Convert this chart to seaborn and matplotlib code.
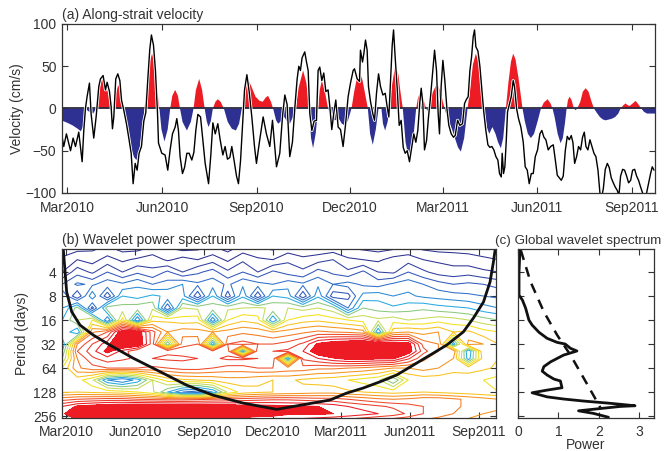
import numpy as np
import pandas as pd
import matplotlib
matplotlib.use('Agg')
import matplotlib.pyplot as plt
import matplotlib.dates as mdates
import matplotlib.patheffects as pe
import seaborn as sns

sns.set_theme(style='ticks')
plt.rcParams['font.family'] = ['Liberation Sans', 'DejaVu Sans']
plt.rcParams.update({'font.size': 10, 'axes.edgecolor': '#333333', 'text.color': '#333333',
                     'axes.labelcolor': '#333333', 'xtick.color': '#333333', 'ytick.color': '#333333'})

# day offsets are counted from 1 Mar 2010
start = pd.Timestamp('2010-03-01')

# (a) daily along-strait velocity (cm/s)
vel_day = [-5, -3.6, -1, 3, 5.5, 7.8, 11, 14.3, 15.9, 17.5, 19.1, 21.4, 23, 25.6, 27.9, 30.5, 32.1, 34.7, 37, 38.6,
           40.9, 42.5, 43.8, 45.1, 47, 49, 51, 52.6, 54.8, 57.4, 59.7, 62, 63.9, 65.9, 67.8, 69.7, 72, 74.3, 76.2,
           78.2, 80.1, 81.7, 83.7, 85.6, 87.6,
           88.6, 91.8, 95, 97.6, 99.9, 102.2, 104.8, 106.4, 108, 109.6, 111.9, 113.9, 116.2, 118.4, 121, 123, 124.9,
           126.9, 129.5, 131.7, 134, 137.3, 139.5, 141.5, 143.8, 146.3, 148.6, 151.2, 153.4, 155.7, 158, 159.9,
           162.2, 164.5, 166.4, 168.4, 170.3, 172.3, 174.6, 176.8, 179.4, 182,
           183.9, 187.1, 190.4, 193.6, 196.9, 199.5, 201.7, 203.4, 206.6, 209.2, 211.5, 213.7, 216.3, 218.9, 221.5,
           223.5, 225.1, 226.7, 228.3, 230.9, 232.6, 234.2, 235.8, 237.8, 240, 242.3, 243.9, 245.5, 247.5, 249.4,
           251.4, 253.6, 255.3, 257.2, 259.2, 261.1, 263.4, 265.7, 268.2, 270.5, 273.1, 275.4, 278,
           279.3, 281.9, 284.2, 285.1, 287.1, 288.4, 290, 291.6, 292.9, 294.9, 297.1, 298.8, 300.7, 302.7, 304.6,
           306.9, 309.2, 311.1, 312.7, 314.3, 316, 317.3, 318.9, 320.8, 322.8, 324.7, 326.7, 328.6, 330.6, 332.8,
           335.1, 337, 339, 340.9, 342.9, 344.2, 345.8, 347.4, 349.4, 351.3, 353.3, 355.2, 357.2, 359.1, 360.7,
           362, 363.6, 365.3, 367.2, 369.2, 371.1, 373.4,
           375.6, 377.3, 379.6, 381.8, 384.4, 386.4, 388.3, 389.9, 391.6, 393.2, 394.8, 396.1, 397.4, 399.4, 401.3,
           403.2, 404.9, 407.1, 409.1, 411, 413, 414.9, 416.9, 418.8, 420.4, 422.1, 423, 424.3, 425.6, 426.9, 428.2,
           429.8, 431.8, 433.7, 435, 437, 438.9, 441.2, 443.5, 445.4, 447.4, 449.3, 451.3, 453.2, 455.2, 457.4,
           459.7, 461.6, 463.6, 465.5, 467.8,
           470.1, 472.7, 474.6, 476.6, 478.5, 480.5, 482.4, 484.4, 486.3, 488.3, 490.2, 491.8, 493.5, 495.4, 497.3,
           499.3, 501.2, 502.9, 504.5, 506.4, 508.4, 510.3, 512.3, 514.2, 516.2, 518.1, 519.7, 521.4, 523.3, 525.3,
           527.2, 529.1, 531.1, 533, 535, 536.6, 538.2, 540.2, 542.1, 544.1, 546, 548, 549.9, 551.9, 553.8, 555.7,
           557.7, 559.6, 561.6, 563.5, 565.5, 567.4, 569, 570.7]
vel_cms = [-35, -45, -30, -50, -35, -45, -28, -63, -26, 0, 14, 30, -6, -35, -10, 26, 35, 39, 22, 31,
           20, 2, -24, -10, 35, 41, 33, 10, -2, -18, -35, -53, -89, -65, -73, -53, -45, -15, -5,
           35, 70, 87, 75, 45, -5,
           -41, -53, -55, -73, -49, -30, -22, -12, -26, -57, -77, -70, -53, -53, -61, -52, -26,
           -7, -10, -37, -65, -89, -55, -17, -30, -18, -37, -55, -45, -60, -58, -45,
           -62, -80, -89, -62, -20, 22, 40, 20, -10, -45,
           -65, -37, -10, -30, -45, -14, -45, -69, -53, -10, 16, 5, -57, -40, 5,
           35, 50, 45, 60, 67, 55, 45, -6, -26, -15, -14, 45, 49, 33, 42,
           20, 22, 2, -25, -5, 10, -22, -25, -45, -20, 14, 30, 45,
           47, 35, 32, 69, 55, 65, 81, 69, 26, 8, -6, -14, 18, 41, 26,
           16, 18, 2, -10, 30, 75, 93, 60, 25, -20, -14, -46, -53, -50, -63,
           -45, -30, -40, -26, 8, 24, 6, -49, -38, -10, 14, 41, 69, 45, -6,
           -30, 26, 57, 33, 0, -20, -30,
           -34, -32, -14, -20, -18, 6, 11, 14, 45, 61, 85, 93, 73, 68, 50,
           22, -2, -26, -43, -46, -45, -49, -57, -61, -77, -81, -53, -77, -69, -40, -4,
           4, 14, 33, 26, 0, -12, -22, -40, -69, -73, -89, -77, -77, -57, -49,
           -30, -26, -34, -37, -49,
           -45, -43, -60, -79, -82, -85, -80, -50, -33, -37, -32, -40, -65, -57, -45,
           -49, -34, -28, -45, -49, -37, -45, -53, -57, -73, -100, -105, -95, -72, -65,
           -70, -82, -88, -93, -97, -103, -80, -72, -73, -80, -88, -85, -73, -72, -80, -85,
           -93, -100, -104, -100, -88, -77, -69, -73]

# (a) band-passed velocity drawn as red / blue shading
filt_day = [-6, 0, 5, 10, 13, 15, 17.5, 20, 25, 28, 30, 33, 34.7, 37, 40, 41.9, 43, 44.5, 46, 49, 50.5, 52.5,
            54.8, 58, 62, 65, 67.2, 70, 73, 75, 77, 80, 82.4, 85, 87.5, 89.5, 91.5, 94.4, 97.5, 100, 102, 104.8,
            107.5, 109.5, 112, 116.2, 120, 122.7, 125, 128.2, 131, 133.5, 135.5, 137.3, 139.5, 141.5, 144, 146.3,
            149, 152.2, 156, 160, 163.9, 167, 169.7, 172, 175.5, 179, 183, 187, 190, 193, 195.2, 198, 200.1, 203,
            205, 208, 211, 214, 216.3, 219.5, 222.2, 225, 229.3, 232.5, 235.2, 237, 239, 241.5, 243.9, 245.5,
            247.5, 250.5, 253.6, 257, 260, 264, 267, 269.9, 273, 276.4, 279, 282, 284.2, 287, 290, 292.3, 294.5,
            297.1, 300, 302.7, 304, 305.5, 307, 309.1, 311.5, 313.4, 315.5, 318.9, 322, 324, 326.3, 329, 332.8,
            336, 339.3, 341, 343.5, 346, 349.1, 350.5, 352, 355, 359.7, 363, 366.9, 370, 374, 377, 380, 382.8,
            386, 389.3, 392, 394.5, 397.4, 400, 403, 405.5, 408, 410.4, 413.5, 416.5, 419, 421.7, 424, 426.6, 429,
            431.5, 433.7, 436, 439, 442.8, 445, 448, 450.9, 454, 457.5, 460.7, 463.5, 467.2, 470, 472, 474, 477,
            479.8, 482, 484, 485.7, 487, 488.6, 490.5, 492.8, 494.5, 496, 499, 501.5, 504.2, 507, 510, 512.3, 515,
            518, 521, 523.6, 527, 530, 533, 536, 538.2, 541, 543.1, 545, 547, 550, 552.8, 555.5, 558.3, 561, 564,
            568, 572]
filt_cms = [-14, -17, -20, -24, -27, -22, 0, -3, -6, 0, 15, 33, 37, 32, 15, 0, -3, 0, 12, 26, 28, 20,
            0, -25, -48, -58, -61, -50, -22, 0, 25, 55, 65, 52, 20, 0, -25, -39, -25, 0, 15, 22,
            15, 0, -16, -26, -16, 0, 22, 35, 22, 0, -15, -22, -15, 0, 8, 11,
            8, 0, -16, -24, -26, -18, 0, 20, 35, 26, 14, 9, 8, 13, 15, 8, 0, -14,
            -18, -15, -10, -16, -18, -10, 0, 25, 45, 30, 0, -35, -47, -30, 0, 22,
            33, 20, 0, -10, -14, -12, -18, -20, -14, 0, 20, 38, 43, 34, 15, 0, -30,
            -43, -25, 0, 2, 0, -18, -26, -16, 0, 25, 51, 40, 20, 0, -40, -63,
            -42, 0, 12, 20, 12, 0, -3, 0, 18, 30, 20, 0, -12, -24, -35, -46, -51,
            -35, 0, 25, 52, 65, 55, 30, 0, -22, -30, -22, -30, -40, -47, -35, 0, 30,
            55, 65, 58, 35, 0, -15, -30, -35, -30, -15, 0, 7, 11, 6, 0, -10, -30,
            -41, -35, -18, 0, 10, 14, 10, 0, -2, 0, 8, 20, 24, 20, 8, 0, -5,
            -10, -13, -14, -13, -12, -10, -6, 0, 4, 6, 4, 3, 6, 9, 5, 0, -4, -6,
            -6, -6]

# (b) wavelet power, coarse contour-band values (rows = periods, cols = days)
wav_day = [-5, 15, 35, 55, 75, 95, 115, 135, 155, 175, 195, 215, 235, 255, 275, 295, 315, 335, 355, 375,
           395, 415, 435, 455, 475, 495, 515, 535, 555, 575]
wav_period = [2, 2.8, 4, 5.7, 8, 11.3, 16, 22.6, 32, 39.4, 48.5, 64, 90.5, 128, 157.6, 194, 238.9, 274.4]
wav_power = [
    [0.2, 0.3, 0.4, 0.6, 0.3, 0.3, 0.6, 0.5, 0.3, 0.4, 0.6, 0.3, 0.7, 0.5, 0.4, 0.7, 0.4, 0.6, 0.7, 0.5,
     0.4, 0.3, 0.4, 0.6, 0.4, 0.3, 0.3, 0.3, 0.2, 0.2],
    [0.6, 1.0, 0.8, 1.2, 0.9, 1.1, 1.3, 0.9, 1.2, 1.0, 1.3, 0.9, 1.4, 1.1, 1.0, 1.4, 1.2, 1.3, 1.5, 1.1,
     1.0, 0.9, 1.2, 1.3, 1.0, 0.9, 0.8, 0.7, 0.6, 0.5],
    [1.0, 1.8, 1.4, 2.0, 1.5, 1.9, 1.6, 2.1, 1.5, 1.9, 2.2, 1.6, 2.0, 1.5, 2.1, 1.8, 1.6, 2.2, 1.9, 1.6,
     2.1, 1.5, 1.4, 2.0, 1.6, 1.3, 1.2, 1.3, 1.1, 1.0],
    [2.0, 2.6, 2.4, 2.8, 2.6, 2.9, 2.5, 2.7, 3.0, 2.6, 2.8, 2.4, 2.9, 2.7, 2.5, 2.8, 2.6, 2.9, 2.5, 2.7,
     2.4, 2.3, 2.6, 2.8, 2.5, 2.2, 2.0, 2.1, 2.0, 1.8],
    [3.0, 1.5, 3.4, 1.6, 3.5, 3.3, 3.6, 3.4, 3.2, 1.6, 3.5, 1.7, 3.4, 1.6, 3.5, 3.3, 1.6, 3.4, 1.7, 1.8,
     3.2, 3.3, 3.0, 3.1, 2.9, 2.8, 2.7, 2.6, 2.5, 2.4],
    [3.0, 4.2, 1.8, 4.3, 4.2, 4.3, 4.4, 2.0, 4.5, 4.4, 4.3, 4.4, 4.5, 4.6, 4.4, 4.5, 4.3, 4.5, 4.2, 2.5,
     4.0, 3.8, 3.6, 3.8, 3.9, 3.7, 3.6, 3.5, 3.2, 3.0],
    [3.5, 4.5, 5.0, 2.5, 5.2, 2.5, 5.3, 5.4, 5.2, 5.3, 2.6, 5.0, 5.4, 5.2, 3.0, 5.0, 5.3, 5.4, 5.2, 5.0,
     4.8, 4.6, 4.8, 4.5, 4.6, 4.8, 4.7, 4.5, 4.2, 4.0],
    [4.0, 3.0, 6.4, 7.0, 9.0, 9.0, 7.2, 6.0, 6.3, 6.2, 6.0, 6.2, 6.4, 6.3, 6.0, 6.2, 6.4, 6.6, 6.5, 6.4,
     6.2, 3.0, 5.8, 6.0, 5.8, 6.0, 5.5, 5.6, 5.2, 5.0],
    [3.0, 6.5, 7.5, 8.3, 9.4, 9.2, 7.2, 3.5, 6.8, 7.0, 3.0, 7.0, 7.2, 7.0, 7.0, 7.2, 7.6, 8.6, 9.0, 9.2,
     9.4, 9.3, 9.0, 8.8, 6.8, 6.5, 3.2, 6.2, 6.0, 5.5],
    [3.5, 7.0, 7.8, 8.7, 7.8, 7.0, 7.2, 7.4, 7.3, 7.2, 7.2, 7.3, 3.0, 7.4, 7.5, 7.6, 8.0, 9.0, 9.5, 9.6,
     9.6, 9.4, 9.2, 8.9, 7.2, 6.5, 6.4, 3.0, 6.0, 5.6],
    [4.0, 6.5, 7.4, 7.8, 7.6, 7.4, 7.5, 7.6, 7.6, 7.5, 7.4, 7.6, 7.6, 7.5, 7.4, 3.0, 7.6, 8.0, 8.4, 8.7,
     8.7, 8.6, 8.6, 7.6, 6.6, 6.2, 6.0, 3.2, 5.8, 5.5],
    [5.0, 6.4, 6.8, 7.0, 7.0, 7.0, 6.9, 7.0, 7.2, 7.2, 7.0, 6.8, 6.8, 7.0, 7.0, 6.8, 6.8, 6.6, 6.6, 6.5,
     6.4, 6.2, 6.0, 6.0, 6.2, 6.0, 5.8, 5.8, 5.6, 5.4],
    [5.0, 5.2, 4.6, 3.0, 2.5, 3.2, 4.5, 5.2, 5.4, 5.5, 5.6, 5.8, 5.8, 5.6, 5.5, 5.6, 5.4, 5.3, 5.2, 5.0,
     4.8, 4.6, 3.5, 5.0, 5.2, 5.2, 5.0, 5.1, 5.0, 4.8],
    [5.4, 5.5, 5.4, 5.3, 5.2, 5.0, 4.6, 3.5, 2.5, 2.2, 3.0, 4.6, 5.2, 5.4, 5.5, 5.6, 5.7, 5.8, 5.8, 5.6,
     5.5, 5.4, 5.3, 5.4, 5.5, 5.4, 5.3, 5.2, 5.1, 5.0],
    [6.8, 7.0, 7.1, 7.2, 7.2, 7.0, 6.9, 6.8, 6.8, 6.9, 7.0, 7.1, 7.2, 7.3, 7.4, 7.4, 7.3, 7.2, 7.2, 7.0,
     6.8, 6.6, 6.5, 6.6, 6.8, 6.8, 6.6, 6.4, 6.2, 6.0],
    [8.0, 8.6, 8.8, 9.0, 9.1, 9.2, 9.2, 9.2, 9.1, 9.0, 9.0, 8.9, 8.8, 8.8, 8.7, 8.6, 8.6, 8.5, 8.3, 8.0,
     7.8, 7.6, 7.4, 7.2, 7.0, 6.8, 6.6, 6.4, 6.4, 6.2],
    [8.4, 9.0, 9.2, 9.4, 9.5, 9.5, 9.5, 9.4, 9.3, 9.2, 9.1, 9.0, 8.9, 8.8, 8.8, 8.6, 8.6, 8.6, 8.5, 8.4,
     8.2, 8.0, 7.8, 7.4, 7.0, 6.8, 6.5, 6.2, 6.0, 5.8],
    [8.0, 8.6, 8.9, 9.0, 9.0, 9.0, 9.0, 8.9, 8.8, 8.7, 8.6, 8.5, 8.4, 8.3, 8.2, 8.0, 8.0, 7.9, 7.8, 7.6,
     7.4, 7.2, 7.0, 6.8, 6.6, 6.4, 6.2, 6.0, 5.8, 5.6],
]
level_values = [0.5, 1.0, 1.5, 2.0, 2.5, 3.0, 3.5, 4.0, 4.5, 5.0, 5.5, 6.0, 6.5, 7.0, 7.5, 8.0, 8.5]
level_colors = ['#2e3192', '#2e3192', '#30409f', '#3056b8', '#2f6fc8', '#2a8bd6', '#27aae1', '#8cc980',
                '#c4dc5a', '#f5e11b', '#f9c31c', '#f7941d', '#f47a22', '#ee4a2a', '#ec3a27', '#ed1c24', '#ed1c24']

# (b) cone of influence
coi_day = [-3.6, 0.9, 7.6, 18.6, 36.3, 58.5, 89.1, 125, 160.5, 195.5, 235.4, 280.2,
           351, 373, 395, 417.6, 439.8, 461.8, 484, 506, 528.3, 541.6, 555, 563.8, 568.2, 570.5]
coi_period = [2.06, 7.1, 12.6, 18.5, 24.7, 33, 48, 71, 105, 140, 176, 211,
              161, 132, 114, 95, 78, 58.7, 44, 33, 22.5, 15.1, 9.5, 5.3, 3.0, 2.1]

# (c) global wavelet spectrum and significance level
gws_period = [2.01, 4.0, 7.8, 9.0, 11.4, 16.0, 18.5, 22.8, 27.1, 30.5, 32, 36.2, 39.1, 44, 53.4, 61.4,
              70, 78.2, 88, 92.9, 113, 121, 130.6, 147, 156.5, 166, 177, 190, 194, 205, 220, 237, 265]
gws_power = [0.05, 0.025, 0.025, 0.11, 0.19, 0.27, 0.35, 0.52, 0.72, 0.97, 1.17, 1.30, 1.46, 1.13, 0.81, 0.64,
             0.60, 0.72, 0.89, 1.05, 1.09, 0.72, 0.35, 0.72, 1.13, 1.63, 2.28, 2.90, 2.53, 2.08, 1.50, 1.87, 2.24]
sig_period = [2.14, 5.3, 12.6, 24.7, 44, 86, 153, 201]
sig_power = [0.07, 0.31, 0.64, 0.97, 1.30, 1.63, 1.91, 2.04]


def day_num(days):
    return mdates.date2num(start + pd.to_timedelta(np.asarray(days, dtype=float), unit='D'))


def style_axis(ax, xpad=6):
    ax.tick_params(direction='in', top=True, right=True, length=4, width=0.8, labelsize=10)
    ax.tick_params(axis='x', pad=xpad)
    ax.tick_params(axis='y', pad=4)
    for s in ax.spines.values():
        s.set_linewidth(0.9)
        s.set_color('#333333')


def date_axis(ax):
    ax.xaxis.set_major_locator(mdates.MonthLocator(bymonth=(3, 6, 9, 12)))
    ax.xaxis.set_major_formatter(mdates.DateFormatter('%b%Y'))
    ax.set_xlim(day_num([-5.3, 571.7]))


fig = plt.figure(figsize=(6.66, 4.51), dpi=100)
ax_a = fig.add_axes([0.0931, 0.5721, 0.8904, 0.3747])
ax_b = fig.add_axes([0.0931, 0.0732, 0.6517, 0.3747])
ax_c = fig.add_axes([0.7778, 0.0732, 0.2042, 0.3747])

# (a) velocity
fx = day_num(filt_day)
fy = np.array(filt_cms, dtype=float)
ax_a.fill_between(fx, 0, fy, where=fy >= 0, interpolate=True, color='#ed1c24', lw=0)
ax_a.fill_between(fx, 0, fy, where=fy <= 0, interpolate=True, color='#2e3192', lw=0)
ax_a.axhline(0, color='#2b2b40', lw=1.3)
sns.lineplot(x=day_num(vel_day), y=vel_cms, ax=ax_a, color='black', lw=1.0, sort=False, estimator=None,
             path_effects=[pe.Stroke(linewidth=2.2, foreground='white'), pe.Normal()])
date_axis(ax_a)
ax_a.set_ylim(-100, 100)
ax_a.set_yticks([-100, -50, 0, 50, 100])
ax_a.set_ylabel('Velocity (cm/s)', fontsize=10, labelpad=1)
style_axis(ax_a)
ax_a.text(0, 1.012, '(a) Along-strait velocity', transform=ax_a.transAxes, fontsize=10, va='bottom', ha='left')

# (b) wavelet power spectrum
X, Y = np.meshgrid(day_num(wav_day), np.log2(wav_period))
Z = np.array(wav_power)
ax_b.contourf(X, Y, Z, levels=[8.5, 20], colors=['#ed1c24'])
ax_b.contour(X, Y, Z, levels=level_values, colors=level_colors, linewidths=0.75)
sns.lineplot(x=day_num(coi_day), y=np.log2(coi_period), ax=ax_b, color='#111111', lw=2.0, sort=False,
             estimator=None)
date_axis(ax_b)
yt = [2, 3, 4, 5, 6, 7, 8]
ax_b.set_yticks(yt)
ax_b.set_yticklabels([str(2 ** t) for t in yt])
ax_b.set_ylim(8.08, 1.04)
ax_b.set_ylabel('Period (days)', fontsize=10, labelpad=3)
ax_b.set_xlabel('')
style_axis(ax_b, xpad=5)
ax_b.text(0, 1.012, '(b) Wavelet power spectrum', transform=ax_b.transAxes, fontsize=10, va='bottom', ha='left')

# (c) global wavelet spectrum
sns.lineplot(x=gws_power, y=np.log2(gws_period), ax=ax_c, color='#111111', lw=2.0, sort=False, estimator=None)
sns.lineplot(x=sig_power, y=np.log2(sig_period), ax=ax_c, color='#111111', lw=1.8, sort=False, estimator=None,
             dashes=False, linestyle=(0, (4, 3)))
ax_c.set_xlim(0, 3.37)
ax_c.set_xticks([0, 1, 2, 3])
ax_c.set_yticks(yt)
ax_c.set_yticklabels([])
ax_c.set_ylim(8.08, 1.04)
ax_c.set_xlabel('Power', fontsize=10, labelpad=-1)
ax_c.set_ylabel('')
style_axis(ax_c, xpad=5)
ax_c.text(-0.17, 1.012, '(c) Global wavelet spectrum', transform=ax_c.transAxes, fontsize=9.6, va='bottom',
          ha='left')

fig.savefig('out.png', dpi=100)
